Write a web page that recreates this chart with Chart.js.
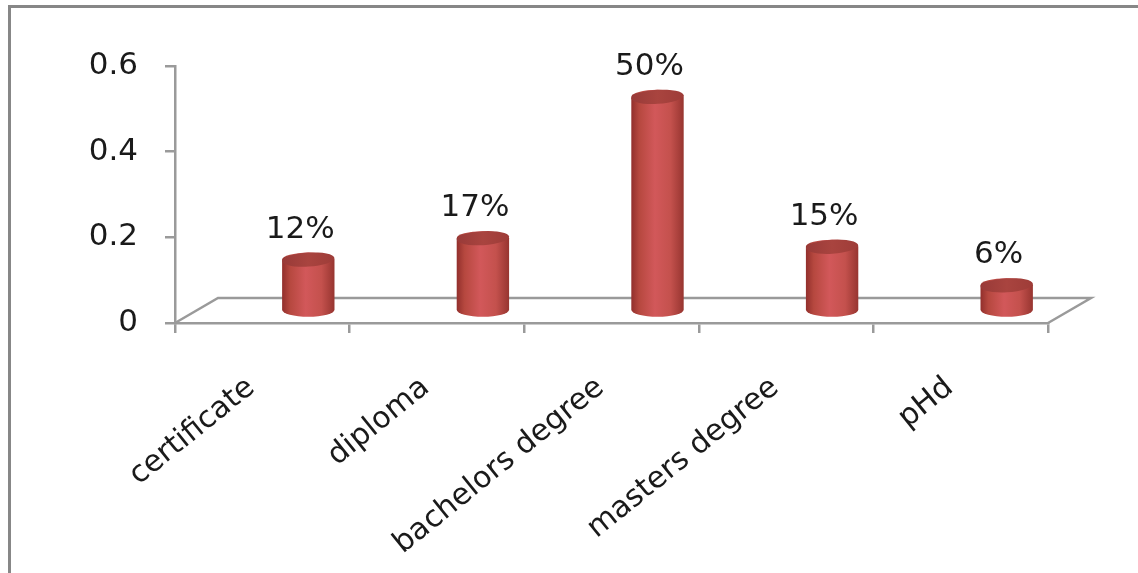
<!DOCTYPE html>
<html>
<head>
<meta charset="utf-8">
<script src="https://cdn.jsdelivr.net/npm/chart.js@4.4.1/dist/chart.umd.min.js"></script>
<style>
  html, body { margin: 0; padding: 0; background: #fff; }
  #wrap { position: relative; width: 1138px; height: 573px; }
</style>
</head>
<body>
<div id="wrap"><canvas id="chart"></canvas></div>
<script>
// data
const categories = ["certificate", "diploma", "bachelors degree", "masters degree", "pHd"];
const shares = [0.12, 0.17, 0.50, 0.15, 0.06];
const yTicks = [0, 0.2, 0.4, 0.6];

const axisGray = "#9a9a9a";
const textColor = "#1a1a1a";
const font = "DejaVu Sans";

// floor depth and where the cylinders sit on it
const floorDx = 43, floorDy = -25;
const cylDx = 46, cylDy = -12;

function drawCylinder(ctx, cx, top, base, r, ry) {
  const g = ctx.createLinearGradient(cx - r, 0, cx + r, 0);
  g.addColorStop(0, "#922f2c");
  g.addColorStop(0.15, "#b6483f");
  g.addColorStop(0.45, "#d2585a");
  g.addColorStop(0.75, "#c4514d");
  g.addColorStop(1, "#973530");
  ctx.beginPath();
  ctx.moveTo(cx - r, top);
  ctx.lineTo(cx - r, base);
  ctx.ellipse(cx, base, r, ry, 0, Math.PI, 0, true);
  ctx.lineTo(cx + r, top);
  ctx.ellipse(cx, top, r, ry, 0, 0, Math.PI, true);
  ctx.closePath();
  ctx.fillStyle = g;
  ctx.fill();

  const t = ctx.createLinearGradient(cx - r, 0, cx + r, 0);
  t.addColorStop(0, "#983a38");
  t.addColorStop(0.5, "#a9443f");
  t.addColorStop(1, "#9e3c38");
  ctx.beginPath();
  ctx.ellipse(cx, top, r, ry, -0.06, 0, Math.PI * 2);
  ctx.fillStyle = t;
  ctx.fill();
}

const frame3d = {
  id: "frame3d",
  beforeDraw(chart) {
    const ctx = chart.ctx;
    ctx.save();
    ctx.strokeStyle = "#878787";
    ctx.lineWidth = 3;
    ctx.beginPath();
    ctx.moveTo(1138, 6.5);
    ctx.lineTo(9.5, 6.5);
    ctx.lineTo(9.5, 573);
    ctx.stroke();
    ctx.restore();
  },
  beforeDatasetsDraw(chart) {
    const ctx = chart.ctx;
    const x = chart.scales.x, y = chart.scales.y;
    const l = x.left, r = x.right, b = y.getPixelForValue(0);
    ctx.save();
    ctx.strokeStyle = axisGray;
    ctx.lineWidth = 2.5;
    ctx.beginPath();
    ctx.moveTo(l, b);
    ctx.lineTo(l + floorDx, b + floorDy);
    ctx.lineTo(r + floorDx, b + floorDy);
    ctx.lineTo(r, b);
    ctx.stroke();
    ctx.restore();
  },
  afterDatasetsDraw(chart) {
    const ctx = chart.ctx;
    const meta = chart.getDatasetMeta(0);
    ctx.save();
    meta.data.forEach((bar, i) => {
      const r = bar.width / 2;
      drawCylinder(ctx, bar.x + cylDx, bar.y + cylDy, bar.base + cylDy, r, 7);
      ctx.fillStyle = textColor;
      ctx.font = "31px '" + font + "'";
      ctx.textAlign = "center";
      ctx.textBaseline = "middle";
      ctx.fillText(Math.round(shares[i] * 100) + "%", bar.x + 38, bar.y + cylDy - 30);
    });
    ctx.restore();
  }
};

new Chart(document.getElementById("chart"), {
  type: "bar",
  data: {
    labels: categories,
    datasets: [{
      data: shares,
      backgroundColor: "rgba(0,0,0,0)",
      categoryPercentage: 1,
      barPercentage: 0.3
    }]
  },
  options: {
    responsive: true,
    maintainAspectRatio: false,
    animation: false,
    layout: { padding: { top: 66, right: 90, left: 0, bottom: 0 } },
    plugins: {
      legend: { display: false },
      tooltip: { enabled: false }
    },
    scales: {
      x: {
        afterFit: (s) => { s.height = 250; },
        grid: { offset: true, drawOnChartArea: false, tickLength: 10, color: axisGray, lineWidth: 2.5 },
        border: { color: axisGray, width: 2.5 },
        ticks: {
          autoSkip: false,
          minRotation: 39,
          maxRotation: 39,
          padding: 37,
          labelOffset: -11,
          color: textColor,
          font: { family: font, size: 30 }
        }
      },
      y: {
        min: 0,
        max: 0.6,
        afterFit: (s) => { s.width = 175; },
        afterBuildTicks: (s) => { s.ticks = yTicks.map((v) => ({ value: v })); },
        grid: { drawOnChartArea: false, tickLength: 10, color: axisGray, lineWidth: 2.5 },
        border: { color: axisGray, width: 2.5 },
        ticks: {
          padding: 27,
          color: textColor,
          font: { family: font, size: 31 },
          callback: (v) => String(Number(v.toFixed(1)))
        }
      }
    }
  },
  plugins: [frame3d]
});
</script>
</body>
</html>
